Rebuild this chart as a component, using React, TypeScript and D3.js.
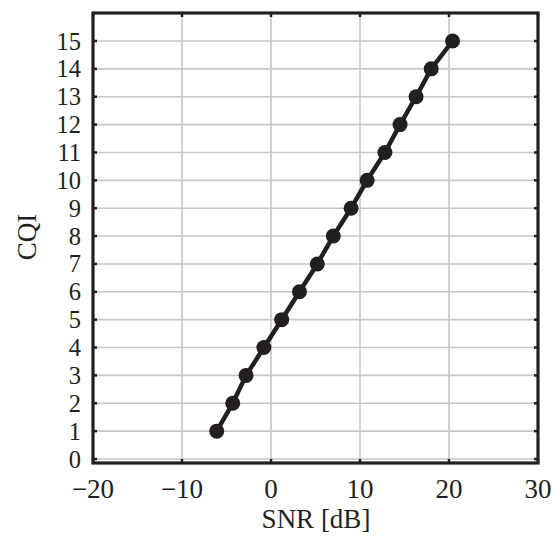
import React, { useEffect, useRef } from "react";
import * as d3 from "d3";

// CQI vs SNR mapping
const cqi = [1, 2, 3, 4, 5, 6, 7, 8, 9, 10, 11, 12, 13, 14, 15];
const snr = [-6.1, -4.3, -2.8, -0.8, 1.2, 3.2, 5.2, 7.0, 9.0, 10.8, 12.8, 14.5, 16.3, 18.0, 20.4];
const xTicks = [-20, -10, 0, 10, 20, 30];
const yTicks = [0, 1, 2, 3, 4, 5, 6, 7, 8, 9, 10, 11, 12, 13, 14, 15];

export default function App() {
  const ref = useRef<SVGSVGElement>(null);

  useEffect(() => {
    const svg = d3.select(ref.current);
    svg.selectAll("*").remove();

    const x = d3.scaleLinear().domain([-20, 30]).range([93, 538]);
    const y = d3.scaleLinear().domain([0, 15]).range([459, 41]);
    const top = 13, bottom = 463;
    const dark = "#231f20";
    const font = "Liberation Serif, Times New Roman, serif";
    const fs = 27;

    // grid
    svg.append("g")
      .selectAll("line")
      .data(xTicks.slice(1, -1))
      .join("line")
      .attr("x1", (d) => x(d)).attr("x2", (d) => x(d))
      .attr("y1", top).attr("y2", bottom)
      .attr("stroke", "#c6c6c8").attr("stroke-width", 1.6);
    svg.append("g")
      .selectAll("line")
      .data(yTicks)
      .join("line")
      .attr("x1", x(-20)).attr("x2", x(30))
      .attr("y1", (d) => y(d)).attr("y2", (d) => y(d))
      .attr("stroke", "#c6c6c8").attr("stroke-width", 1.6);

    // ticks (inward, all sides)
    const tl = 4;
    const tg = svg.append("g").attr("stroke", dark).attr("stroke-width", 2.5);
    xTicks.forEach((t) => {
      tg.append("line").attr("x1", x(t)).attr("x2", x(t)).attr("y1", bottom).attr("y2", bottom - tl);
      tg.append("line").attr("x1", x(t)).attr("x2", x(t)).attr("y1", top).attr("y2", top + tl);
    });
    yTicks.forEach((t) => {
      tg.append("line").attr("x1", x(-20)).attr("x2", x(-20) + tl).attr("y1", y(t)).attr("y2", y(t));
      tg.append("line").attr("x1", x(30)).attr("x2", x(30) - tl).attr("y1", y(t)).attr("y2", y(t));
    });

    // frame
    svg.append("rect")
      .attr("x", x(-20)).attr("y", top)
      .attr("width", x(30) - x(-20)).attr("height", bottom - top)
      .attr("fill", "none").attr("stroke", dark).attr("stroke-width", 3.2);

    // tick labels
    svg.append("g")
      .selectAll("text")
      .data(xTicks)
      .join("text")
      .attr("x", (d) => x(d)).attr("y", 498)
      .attr("text-anchor", "middle")
      .attr("font-family", font).attr("font-size", fs).attr("fill", dark)
      .text((d) => (d < 0 ? "\u2212" + Math.abs(d) : String(d)));
    svg.append("g")
      .selectAll("text")
      .data(yTicks)
      .join("text")
      .attr("x", 81).attr("y", (d) => y(d) + 8.5)
      .attr("text-anchor", "end")
      .attr("font-family", font).attr("font-size", 24.5).attr("fill", dark)
      .text((d) => String(d));

    // axis titles
    svg.append("text")
      .attr("x", 316).attr("y", 528)
      .attr("text-anchor", "middle")
      .attr("font-family", font).attr("font-size", fs).attr("fill", dark)
      .text("SNR [dB]");
    svg.append("text")
      .attr("transform", "translate(36,237) rotate(-90)")
      .attr("text-anchor", "middle")
      .attr("font-family", font).attr("font-size", fs).attr("fill", dark)
      .text("CQI");

    // line + markers
    const pts = cqi.map((c, i) => [snr[i], c] as [number, number]);
    const line = d3.line<[number, number]>().x((d) => x(d[0])).y((d) => y(d[1]));
    svg.append("path")
      .attr("d", line(pts))
      .attr("fill", "none").attr("stroke", dark).attr("stroke-width", 4.5)
      .attr("stroke-linejoin", "round");
    svg.append("g")
      .selectAll("circle")
      .data(pts)
      .join("circle")
      .attr("cx", (d) => x(d[0])).attr("cy", (d) => y(d[1]))
      .attr("r", 7.5).attr("fill", dark);
  });

  return (
    <svg
      ref={ref}
      width={553}
      height={536}
      style={{ position: "absolute", left: 0, top: 0, background: "#fff" }}
    />
  );
}
